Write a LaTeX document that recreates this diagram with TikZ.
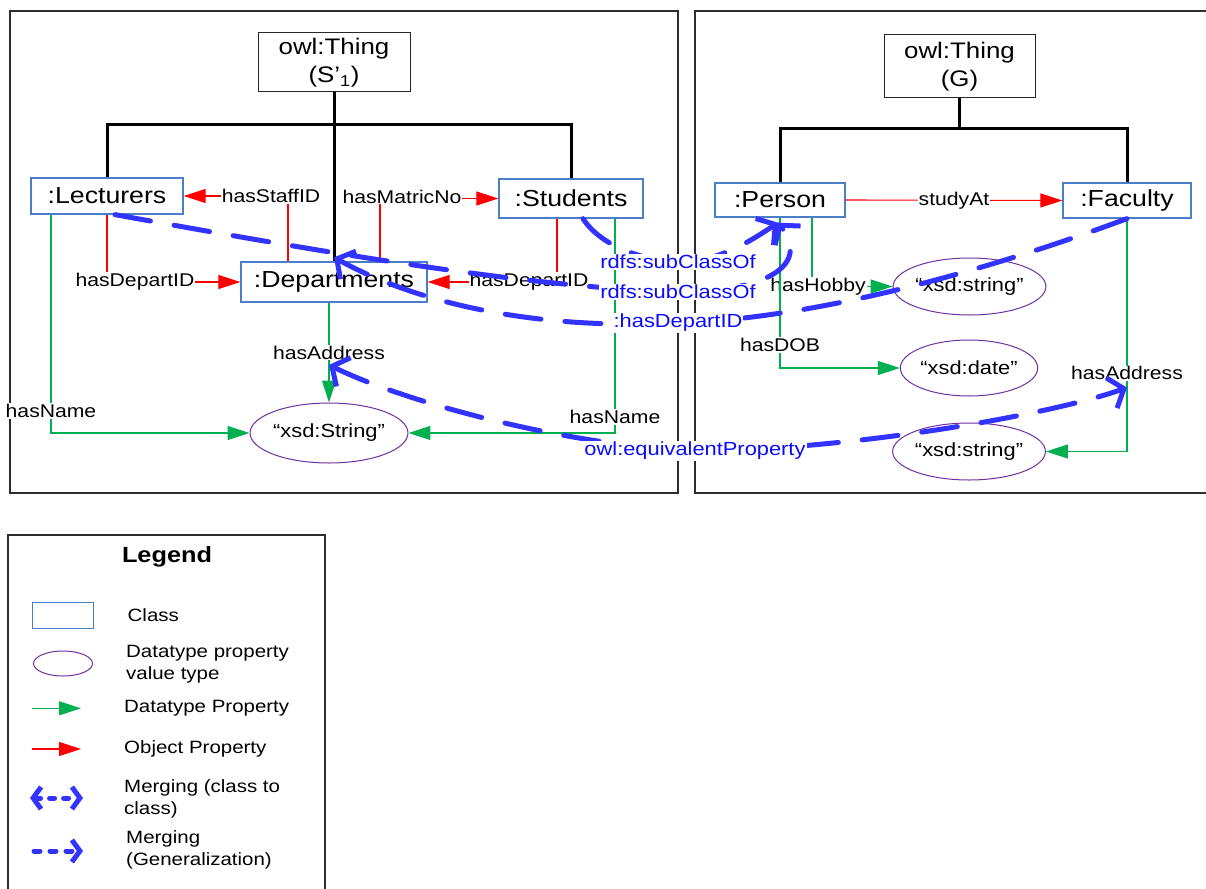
\documentclass[tikz,border=0pt]{standalone}
\usepackage{fontspec}
\setmainfont{Liberation Sans}[FakeStretch=1.15]
\usetikzlibrary{arrows.meta,shapes.geometric}
\pgfdeclarelayer{fg}
\pgfsetlayers{main,fg}
\definecolor{clsblue}{RGB}{74,126,200}
\definecolor{valpurple}{RGB}{112,48,160}
\definecolor{opred}{RGB}{255,0,0}
\definecolor{dpgreen}{RGB}{0,176,80}
\definecolor{mergeblue}{RGB}{51,51,255}
\definecolor{lblblue}{RGB}{10,10,255}
\definecolor{framegray}{RGB}{45,45,45}
\newcommand{\myfs}[2]{\fontsize{#1}{#2}\selectfont}
\tikzset{
  cls/.style={draw=clsblue, line width=1.3pt, rectangle, inner sep=0pt, font=\myfs{23.2}{26}},
  thing/.style={draw=black!85, line width=1pt, rectangle, inner sep=0pt, align=center, font=\myfs{22.5}{28}},
  val/.style={draw=valpurple, line width=1pt, ellipse, inner sep=0pt, font=\myfs{19}{22}},
  op/.style={draw=opred, line width=1.1pt, -{Triangle[length=22pt,width=14pt]}},
  dp/.style={draw=dpgreen, line width=1.1pt, -{Triangle[length=22pt,width=14pt]}},
  lbl/.style={fill=white, inner sep=1pt, text=black, font=\myfs{18.4}{21}},
  tree/.style={line width=3pt, draw=black},
  merge/.style={draw=mergeblue, line width=5pt, dash pattern=on 36pt off 24pt, line cap=round},
  mend/.style={-{Straight Barb[length=13pt,width=32pt]}},
  mboth/.style={{Straight Barb[length=13pt,width=32pt]}-{Straight Barb[length=13pt,width=32pt]}},
  blbl/.style={fill=white, inner sep=1pt, text=lblblue, font=\myfs{19}{22}},
  frame/.style={draw=framegray, line width=1.4pt},
  legtext/.style={anchor=west, inner sep=0pt, align=left, font=\myfs{17.8}{22}},
}
\begin{document}
\begin{tikzpicture}[x=1pt, y=-1pt]
\useasboundingbox (0,0) rectangle (1206,888);
\fill[white] (0,0) rectangle (1206,888);
% frames
\draw[frame] (10,11) rectangle (678,493);
\draw[frame] (1215,11) -- (695,11) -- (695,493) -- (1215,493);
\draw[frame] (8,900) -- (8,535) -- (325,535) -- (325,900);

% left ontology
\node[thing, minimum width=152pt, minimum height=59pt] (t1) at (334,62.5) {owl:Thing\\(S’\textsubscript{1})};
\node[cls, minimum width=152pt, minimum height=36pt] (lec) at (107,196) {:Lecturers};
\node[cls, minimum width=186pt, minimum height=40pt] (dep) at (334,282) {:Departments};
\node[cls, minimum width=144pt, minimum height=39pt] (stu) at (571,198.5) {:Students};
\node[val, minimum width=139pt, minimum height=60pt] (xs) at (329,433) {“xsd:String”};

\coordinate (h1) at (334,124);
\draw[tree] (t1.south) -- (dep.north);
\draw[tree] (lec.north) |- (h1) -| (stu.north);

\draw[op] ([xshift=-46pt]dep.north) |- (lec.east) node[lbl, pos=0.5, xshift=-17pt] {hasStaffID};
\draw[op] ([xshift=46pt]dep.north) |- (stu.west) node[lbl, pos=0.5, xshift=22pt, yshift=2pt] {hasMatricNo};
\draw[op] (lec.south) |- (dep.west) node[lbl, pos=0.5, xshift=28pt] {hasDepartID};
\draw[op] ([xshift=-14pt]stu.south) |- (dep.east) node[lbl, pos=0.5, xshift=-28pt] {hasDepartID};
\draw[dp] ([xshift=-5pt]dep.south) -- (xs.north) node[lbl, pos=0.5] (ha1) {hasAddress};
\draw[dp] ([xshift=-56pt]lec.south) |- (xs.west) node[lbl, pos=0.45] {hasName};
\draw[dp] ([xshift=44pt]stu.south) |- (xs.east) node[lbl, pos=0.463] {hasName};

% right ontology
\node[thing, minimum width=151pt, minimum height=63pt] (t2) at (959.5,66.5) {owl:Thing\\(G)};
\node[cls, minimum width=130pt, minimum height=34pt] (per) at (780,200) {:Person};
\node[cls, minimum width=128pt, minimum height=35pt] (fac) at (1127,200.5) {:Faculty};
\node[val, minimum width=133pt, minimum height=57pt] (hob) at (969.5,286.5) {“xsd:string”};
\node[val, minimum width=134pt, minimum height=56pt] (dat) at (969,368) {“xsd:date”};
\node[val, minimum width=134pt, minimum height=57pt] (st2) at (969,451.5) {“xsd:string”};

\coordinate (h2) at (959.5,128);
\draw[tree] (t2.south) -- (h2);
\draw[tree] (per.north) |- (h2) -| (fac.north);

\draw[op] (per.east) -- (fac.west) node[lbl, midway] {studyAt};
\draw[dp] ([xshift=32pt]per.south) |- (hob.west) node[lbl, pos=0.5, xshift=6pt] {hasHobby};
\draw[dp] (per.south) |- (dat.west) node[lbl, pos=0.424] {hasDOB};
\draw[dp] (fac.south) |- (st2.east) node[lbl, pos=0.332] (ha2) {hasAddress};

% merge labels (on top)
\begin{pgfonlayer}{fg}
\node[blbl] (sub1) at (678,262) {rdfs:subClassOf};
\node[blbl] (sub2) at (678,292) {rdfs:subClassOf};
\node[blbl] (hdi) at (678,323) {:hasDepartID};
\node[blbl] (eqp) at (695,451) {owl:equivalentProperty};
\end{pgfonlayer}

% merge connectors
\draw[merge, mend] ([xshift=12pt]stu.south) .. controls (600,245) and (640,260) .. (sub1.center)
   .. controls (715,262) and (745,245) .. ([xshift=-2pt,yshift=-5pt]per.south);
\draw[merge, mend] ([xshift=8pt]lec.south) .. controls (300,248) and (520,287) .. (sub2.center)
   .. controls (760,292) and (812,268) .. ([xshift=-2pt,yshift=-5pt]per.south);
\draw[merge, mend] (fac.south) .. controls (1010,262) and (830,318) .. (hdi.center)
   .. controls (540,330) and (420,305) .. ([yshift=4pt]dep.north);
\draw[merge, mboth] ([yshift=-4pt]ha1.south) .. controls (400,400) and (560,445) .. (eqp.center)
   .. controls (850,450) and (1050,415) .. ([yshift=-6pt]ha2.south);

% legend
\node[font=\bfseries\myfs{22}{24}] (lg) at (167,557) {Legend};
\node[draw=clsblue, line width=1.3pt, minimum width=61.5pt, minimum height=26pt, inner sep=0pt] (lcls) at (63,615.7) {};
\node[legtext] (tcls) at (127.5,615) {Class};
\node[draw=valpurple, line width=1pt, ellipse, minimum width=59pt, minimum height=25pt, inner sep=0pt] (lval) at (63,663.5) {};
\node[legtext] (tval) at (126,664) {Datatype property\\value type};
\coordinate (g1) at (32,708.3);
\coordinate (g2) at (81,708.3);
\draw[dp] (g1) -- (g2);
\node[legtext] (tdp) at (124,708.3) {Datatype Property};
\coordinate (r1) at (32,749);
\coordinate (r2) at (81,749);
\draw[op] (r1) -- (r2);
\node[legtext] (top) at (124,749) {Object Property};
\coordinate (b1) at (30,798);
\coordinate (b2) at (83,798);
\draw[draw=mergeblue, line width=5pt, line cap=round, dash pattern=on 5pt off 9pt,
  {Straight Barb[length=8pt,width=22pt]}-{Straight Barb[length=8pt,width=22pt]}] (b1) -- (b2);
\node[legtext] (tmc) at (124,799) {Merging (class to\\class)};
\coordinate (c1) at (34,851);
\coordinate (c2) at (83,851);
\draw[draw=mergeblue, line width=5pt, line cap=round, dash pattern=on 6pt off 10pt,
  -{Straight Barb[length=8pt,width=22pt]}] (c1) -- (c2);
\node[legtext] (tmg) at (126,850) {Merging\\(Generalization)};
\end{tikzpicture}
\end{document}
